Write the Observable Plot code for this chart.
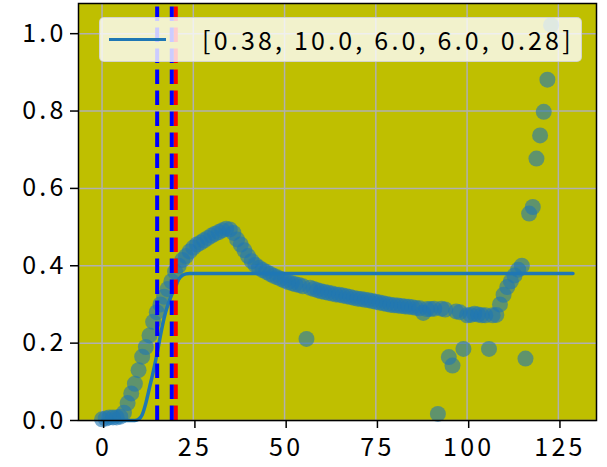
<!DOCTYPE html>
<html>
<head>
<meta charset="utf-8">
<script src="https://cdn.jsdelivr.net/npm/d3@7"></script>
<script src="https://cdn.jsdelivr.net/npm/@observablehq/plot@0.6"></script>
<style>
  html, body { margin: 0; padding: 0; background: white; }
  #wrap { position: relative; width: 607px; height: 467px; }
  svg text, .lg-text {
    font-family: "Noto Sans CJK JP", "Noto Sans", sans-serif;
    letter-spacing: 3.2px;
  }
  #legend {
    position: absolute; left: 99px; top: 17px; width: 481px; height: 43px;
    background: rgba(255,255,255,0.8);
    border: 1px solid rgba(204,204,204,0.8);
    border-radius: 5px;
  }
  #legend .lg-line {
    position: absolute; left: 9px; top: 19.5px; width: 57px; height: 3.5px; background: #1f77b4;
  }
  #legend .lg-text {
    position: absolute; left: 102px; top: 0; line-height: 43px; font-size: 25px; color: #000; white-space: pre;
  }
</style>
</head>
<body>
<div id="wrap"></div>
<script>
// Observed values, one per day (day index 0..123)
const observed = [
  0.003, 0.005, 0.008, 0.008, 0.008, 0.010, 0.020, 0.045, 0.070, 0.095,
  0.130, 0.165, 0.190, 0.220, 0.255, 0.280, 0.300, 0.320, 0.340, 0.360,
  0.385, 0.400, 0.415, 0.425, 0.437, 0.447, 0.455, 0.460, 0.466, 0.472,
  0.478, 0.483, 0.487, 0.492, 0.496, 0.494, 0.485, 0.468, 0.455, 0.440,
  0.425, 0.412, 0.402, 0.395, 0.389, 0.384, 0.379, 0.374, 0.370, 0.366,
  0.362, 0.358, 0.355, 0.352, 0.350, 0.347, 0.211, 0.343, 0.340, 0.337,
  0.334, 0.332, 0.330, 0.328, 0.326, 0.325, 0.323, 0.321, 0.319, 0.317,
  0.315, 0.314, 0.312, 0.311, 0.309, 0.307, 0.305, 0.303, 0.301, 0.299,
  0.298, 0.297, 0.296, 0.295, 0.294, 0.293, 0.291, 0.290, 0.278, 0.288,
  0.288, 0.289, 0.017, 0.289, 0.287, 0.164, 0.142, 0.282, 0.280, 0.185,
  0.272, 0.273, 0.276, 0.274, 0.272, 0.272, 0.185, 0.272, 0.273, 0.300,
  0.325, 0.345, 0.360, 0.375, 0.390, 0.400, 0.160, 0.535, 0.552, 0.677,
  0.737, 0.798, 0.881, 1.022
];

// Fitted model curve
const modelX = [0, 9, 10, 11, 12, 13, 14, 15, 16, 17, 18, 19, 20, 21, 22, 23, 24, 129];
const modelY = [0, 0, 0.003, 0.015, 0.045, 0.085, 0.125, 0.17, 0.22, 0.265, 0.298, 0.323, 0.347, 0.365, 0.375, 0.379, 0.38, 0.38];

// Vertical markers
const blueLines = [15.1, 19.1];
const redLines = [20.2];

const xTicks = [0, 25, 50, 75, 100, 125];
const yTicks = [0, 0.2, 0.4, 0.6, 0.8, 1.0];
const legendLabel = "[0.38, 10.0, 6.0, 6.0, 0.28]";

const yMax = 1.078;
const points = observed.map((v, i) => ({x: i, y: v}));
const model = modelX.map((x, i) => ({x, y: modelY[i]}));

const chart = Plot.plot({
  width: 607,
  height: 467,
  marginLeft: 78,
  marginRight: 11,
  marginTop: 3,
  marginBottom: 47,
  style: {fontSize: "25px", color: "black", background: "white"},
  x: {domain: [-6.45, 135.45], ticks: xTicks},
  y: {domain: [0, yMax], ticks: yTicks},
  marks: [
    Plot.frame({fill: "#bfbf00", stroke: null}),
    Plot.gridX(xTicks, {stroke: "#b0b0b0", strokeOpacity: 1, strokeWidth: 1.5}),
    Plot.gridY(yTicks, {stroke: "#b0b0b0", strokeOpacity: 1, strokeWidth: 1.5}),
    Plot.dot(points, {x: "x", y: "y", r: 8, fill: "#1f77b4", fillOpacity: 0.6, stroke: null}),
    Plot.line(model, {x: "x", y: "y", stroke: "#1f77b4", strokeWidth: 3.5, curve: "monotone-x"}),
    Plot.ruleX(redLines, {x: d => d, y1: 0, y2: yMax, stroke: "red", strokeWidth: 4, strokeDasharray: "14.5,6.5"}),
    Plot.ruleX(blueLines, {x: d => d, y1: 0, y2: yMax, stroke: "blue", strokeWidth: 4, strokeDasharray: "14.5,6.5"}),
    Plot.frame({stroke: "black", strokeWidth: 1.5}),
    Plot.axisX(xTicks, {tickSize: 8, tickPadding: 10, stroke: "black", strokeWidth: 1.5, label: null, fontSize: 25, dx: 1.6}),
    Plot.axisY(yTicks, {tickSize: 8, tickPadding: 4, stroke: "black", strokeWidth: 1.5, label: null, fontSize: 25, tickFormat: d3.format(".1f")})
  ]
});

const wrap = document.getElementById("wrap");
wrap.appendChild(chart);

const legend = document.createElement("div");
legend.id = "legend";
const ll = document.createElement("div");
ll.className = "lg-line";
const lt = document.createElement("div");
lt.className = "lg-text";
lt.textContent = legendLabel;
legend.appendChild(ll);
legend.appendChild(lt);
wrap.appendChild(legend);
</script>
</body>
</html>
